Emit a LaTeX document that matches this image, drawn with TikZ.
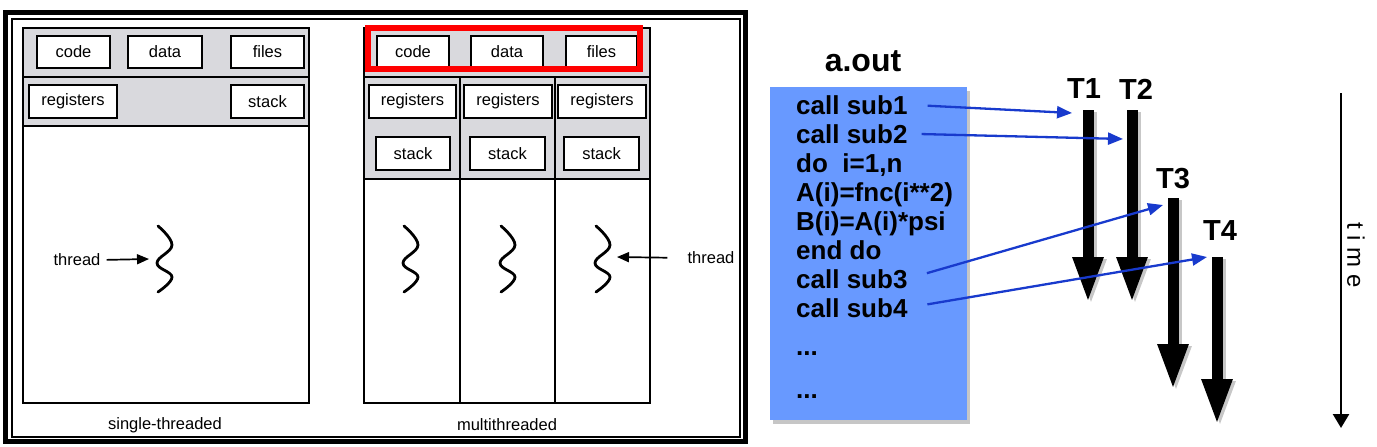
\documentclass[tikz,border=0pt]{standalone}
\usepackage{fontspec}
\setmainfont{Liberation Sans}
\usetikzlibrary{arrows.meta,positioning,shadows}

\definecolor{panelgray}{RGB}{217,217,221}
\definecolor{progblue}{RGB}{104,153,255}
\definecolor{callblue}{RGB}{24,58,205}

\begin{document}
\begin{tikzpicture}[
  x=1pt, y=-1pt,
  seg/.style={draw, line width=1.3pt, fill=white, inner sep=0pt,
              minimum height=32pt, font=\fontsize{16.5}{18}\selectfont},
  lbl/.style={font=\fontsize{16.5}{18}\selectfont, inner sep=0pt},
  proc/.style={draw, line width=1.4pt},
  wiggle/.pic={\draw[line width=2.8pt, line cap=round]
    plot[smooth, tension=0.7] coordinates {(1,0) (15,19) (0,37) (15,51) (1,66)};},
  ptr/.style={-{Triangle[length=12pt,width=10pt]}, line width=1.7pt},
  codeline/.style={anchor=base west, inner sep=0pt,
               font=\fontsize{26}{28}\selectfont\bfseries},
  tlabel/.style={font=\fontsize{29}{30}\selectfont\bfseries, inner sep=0pt},
  callarrow/.style={callblue, line width=2.3pt, shorten <=20pt,
               -{Triangle[length=15pt,width=12pt]}},
  thrd/.style={line width=11pt, -{Triangle[length=46pt,width=28pt]}},
  thrdshadow/.style={thrd, black!22}
]
\useasboundingbox (0,0) rectangle (1377,447);

% frame round both processes
\draw[line width=5pt] (5,12) rectangle (745,441);
\draw[line width=1.2pt] (12,19) rectangle (740,437);

% single-threaded process
\fill[panelgray] (23,28) rectangle (309,126);
\draw[proc] (23,28) rectangle (309,403);
\draw[proc] (23,77) -- (309,77);
\draw[proc] (23,126) -- (309,126);
\node[seg, minimum width=73pt] (scode) at (73.5,52) {code};
\node[seg, minimum width=74pt] (sdata) at (165,52) {data};
\node[seg, minimum width=73pt] (sfiles) at (267.5,52) {files};
\node[seg, minimum width=88pt, minimum height=33pt] (sregs) at (73,101.5) {registers};
\node[seg, minimum width=73pt, minimum height=33pt] (sstack) at (267.5,101.5) {stack};
\pic at (157,226) {wiggle};
\coordinate (swig) at (149,259);
\node[lbl] (sthread) at (77,260) {thread};
\draw[ptr, shorten <=6pt] (sthread.east) -- (swig);
\node[lbl] (stlabel) at (165,425) {single-threaded};

% multithreaded process
\fill[panelgray] (364,28) rectangle (650,179);
\draw[proc] (364,28) rectangle (650,403);
\draw[proc] (364,77) -- (650,77);
\draw[proc] (364,179) -- (650,179);
\draw[proc] (460,77) -- (460,403);
\draw[proc] (555,77) -- (555,403);
\node[seg, minimum width=72pt] (mcode) at (413,52) {code};
\node[seg, minimum width=72pt] (mdata) at (507,52) {data};
\node[seg, minimum width=71pt] (mfiles) at (601.5,52) {files};
\node[seg, minimum width=87pt, minimum height=33pt] (mregsa) at (412.5,101.5) {registers};
\node[seg, minimum width=88pt, minimum height=33pt] (mregsb) at (508,101.5) {registers};
\node[seg, minimum width=88pt, minimum height=33pt] (mregsc) at (602,101.5) {registers};
\node[seg, minimum width=74pt, minimum height=33pt] (mstacka) at (413,153.5) {stack};
\node[seg, minimum width=75pt, minimum height=33pt] (mstackb) at (507.5,153.5) {stack};
\node[seg, minimum width=75pt, minimum height=33pt] (mstackc) at (601.5,153.5) {stack};
\draw[red, line width=6pt] (368,28) rectangle (640,69);
\pic at (403,226) {wiggle};
\pic at (500,226) {wiggle};
\pic at (595,226) {wiggle};
\coordinate (mwig) at (617,257);
\node[lbl] (mthread) at (711,258) {thread};
\draw[ptr, shorten <=20pt] (mthread.west) -- (mwig);
\node[lbl] (mtlabel) at (507,425) {multithreaded};

% program and its threads
\node[font=\fontsize{32}{34}\selectfont\bfseries, inner sep=0pt] (aout) at (863,61) {a.out};
\node[fill=progblue, minimum width=197pt, minimum height=333pt, inner sep=0pt,
      drop shadow={shadow xshift=3pt, shadow yshift=-4pt, opacity=0.45}] (prog) at (868.5,253.5) {};
\node[codeline] (csub1) at (796,114) {call sub1};
\node[codeline] (csub2) at (796,143) {call sub2};
\node[codeline] (cdo) at (796,172) {do~~i=1,n};
\node[codeline] (cfnc) at (796,201) {A(i)=fnc(i**2)};
\node[codeline] (cpsi) at (796,230) {B(i)=A(i)*psi};
\node[codeline] (cend) at (796,259) {end do};
\node[codeline] (csub3) at (796,288) {call sub3};
\node[codeline] (csub4) at (796,317) {call sub4};
\node[codeline] (cdotsa) at (796,355) {...};
\node[codeline] (cdotsb) at (796,398) {...};

\coordinate (t1s) at (1088,110); \coordinate (t1e) at (1088,303);
\coordinate (t2s) at (1132,110); \coordinate (t2e) at (1132,303);
\coordinate (t3s) at (1173,198); \coordinate (t3e) at (1173,390);
\coordinate (t4s) at (1217,257); \coordinate (t4e) at (1217,425);
\draw[thrdshadow] ([shift={(3,2)}]t1s) -- ([shift={(3,2)}]t1e);
\draw[thrdshadow] ([shift={(3,2)}]t2s) -- ([shift={(3,2)}]t2e);
\draw[thrdshadow] ([shift={(3,2)}]t3s) -- ([shift={(3,2)}]t3e);
\draw[thrdshadow] ([shift={(3,2)}]t4s) -- ([shift={(3,2)}]t4e);
\draw[thrd] (t1s) -- (t1e);
\draw[thrd] (t2s) -- (t2e);
\draw[thrd] (t3s) -- (t3e);
\draw[thrd] (t4s) -- (t4e);
\node[tlabel] (T1) at (1084,89) {T1};
\node[tlabel] (T2) at (1136,89) {T2};
\node[tlabel] (T3) at (1173,179) {T3};
\node[tlabel] (T4) at (1220,231) {T4};

\coordinate (a1) at (1072,113);
\coordinate (a2) at (1123,139);
\coordinate (a3) at (1163,205);
\coordinate (a4) at (1207,257);
\draw[callarrow] (csub1.east) -- (a1);
\draw[callarrow, shorten <=14pt] (csub2.east) -- (a2);
\draw[callarrow] (csub3.east) -- (a3);
\draw[callarrow] (csub4.east) -- (a4);

% time axis
\coordinate (tm0) at (1341,93);
\coordinate (tm1) at (1341,428);
\draw[line width=2.5pt, -{Triangle[length=14pt,width=16pt]}] (tm0) -- (tm1);
\node[rotate=-90, font=\fontsize{24}{26}\selectfont, inner sep=0pt] (time) at (1356,255) {t i m e};
\end{tikzpicture}
\end{document}
